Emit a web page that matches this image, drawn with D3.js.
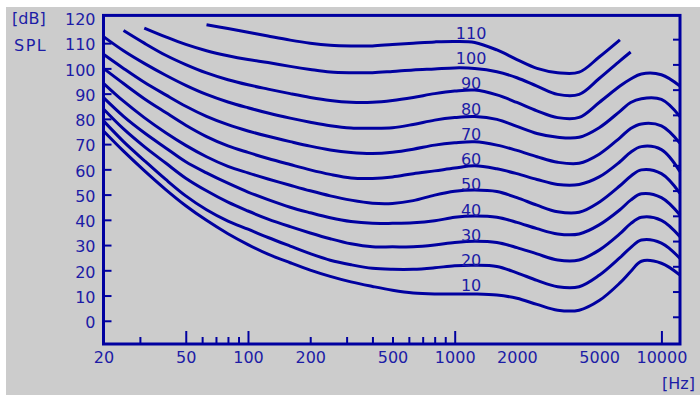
<!DOCTYPE html>
<html>
<head>
<meta charset="utf-8">
<script src="https://cdn.jsdelivr.net/npm/d3@7"></script>
<style>
  body { margin: 0; background: #fff; }
  svg text { font-family: "DejaVu Sans", sans-serif; font-size: 16px; fill: #1c1ca6; }
</style>
</head>
<body>
<svg id="chart" width="700" height="396"></svg>
<script>
// frequency grid (Hz) shared by all contours
const freqs = [20, 25, 31.5, 40, 50, 63, 80, 100, 125, 160, 200, 250, 315, 400, 500, 630, 800, 1000, 1250, 1600, 2000, 2500, 3150, 4000, 5000, 6300, 7100, 8000, 10000, 12300]

// SPL (dB), one array per loudness level
const phon10 = [75.2, 67.2, 59.5, 52, 45.6, 39.8, 34.5, 30.2, 26.4, 23, 20.1, 17.6, 15.4, 13.6, 12.1, 11, 10.6, 10.6, 10.6, 10.2, 8.9, 6.5, 4.2, 4.2, 8, 15, 19.5, 23.6, 22.8, 18.1]
const phon20 = [79.2, 71, 63.5, 56, 49.5, 44, 39.5, 36.3, 33, 29.6, 26.6, 24, 22.2, 20.8, 20.4, 20.4, 21, 21.8, 22, 21.5, 19, 16, 13.5, 13.5, 18, 25, 29, 32, 30.8, 24.7]
const phon30 = [83.9, 76, 69, 62.5, 56.5, 51.5, 47, 43.5, 40.3, 37.3, 34.8, 32.5, 30.5, 29.3, 29.3, 29.3, 30, 31, 31.5, 31, 29, 26.5, 24.1, 24.1, 28, 34.5, 38.5, 41, 39.8, 33.3]
const phon40 = [88.4, 81, 74.5, 68.5, 63, 58.6, 54.5, 51, 48, 45, 42.8, 40.8, 39.3, 38.6, 38.6, 38.8, 39.6, 41, 41.5, 41, 39, 36.5, 34.4, 34.4, 38, 44, 47.8, 50.3, 48.8, 41.9]
const phon50 = [94.1, 87, 80.5, 74.5, 69.5, 65, 61.2, 58.6, 56.2, 53.7, 51.5, 49.5, 47.8, 46.6, 46.5, 47.6, 49.8, 51.3, 51.8, 51.2, 48.8, 45.8, 43.2, 43, 47, 53.5, 57.3, 59.8, 58.3, 50.5]
const phon60 = [100, 94, 88, 82.5, 77.5, 73, 69.3, 66.7, 64.3, 61.9, 59.8, 58, 56.6, 56.4, 57, 58.3, 59.4, 60.5, 61.4, 60.2, 58.3, 56, 54, 54, 57, 63, 66.8, 69, 67.8, 59.1]
const phon70 = [105.6, 100, 94.5, 89.5, 85, 81, 77.7, 75.2, 73.1, 71, 69.2, 67.7, 66.7, 66.3, 66.8, 68, 69.6, 70.5, 70.9, 69.6, 67.5, 65, 62.8, 62.4, 66, 72.5, 76.2, 78, 77.2, 70.3]
const phon80 = [112.6, 107, 102, 97.3, 93.3, 89.7, 86.7, 84.4, 82.3, 80.3, 78.7, 77.3, 76.4, 76.3, 76.5, 77.8, 79.5, 80.5, 80.9, 79.8, 77, 74.2, 72.7, 72.7, 76.5, 83, 86.5, 88, 87.7, 80.9]
const phon90 = [null, 115, 110, 105.2, 101.5, 98.2, 95.5, 93.5, 91.8, 90, 88.5, 87.3, 86.6, 86.6, 87.3, 88.5, 90, 91, 91.4, 89.5, 86.5, 83.2, 80.5, 80.6, 86.5, 93, 95.8, 97.8, 97.5, 93]
const phon100 = [null, null, 116, 112.5, 109.5, 107, 105, 103.5, 102.3, 100.8, 99.6, 98.6, 98.3, 98.3, 98.8, 99.4, 99.8, 100.2, 100, 98.7, 96.3, 93, 89.7, 89.7, 96, 103, 106.5, null, null, null]
const phon110 = [null, null, null, null, null, 117.3, 115.8, 114.3, 112.8, 111.2, 110, 109.2, 108.9, 108.9, 109.5, 110, 110.5, 110.7, 110.3, 107.3, 103.5, 100, 98.3, 98.5, 104.5, 111.3, null, null, null, null]

const levels = [10, 20, 30, 40, 50, 60, 70, 80, 90, 100, 110]
const curves = [phon10, phon20, phon30, phon40, phon50, phon60, phon70, phon80, phon90, phon100, phon110]

const yTicks = [0, 10, 20, 30, 40, 50, 60, 70, 80, 90, 100, 110, 120]
const xMajor = [50, 100, 1000, 10000]
const xMinor = [30, 60, 70, 80, 90, 200, 300, 400, 500, 600, 700, 800, 900]
const xLabels = [20, 50, 100, 200, 500, 1000, 2000, 5000, 10000]

const blue = "#0000a0"

const svg = d3.select("#chart")

svg.append("rect")
  .attr("x", 6).attr("y", 7)
  .attr("width", 694).attr("height", 388)
  .attr("fill", "#cccccc")

const x = d3.scaleLog().domain([20, 12300]).range([103.5, 680])
const y = d3.scaleLinear().domain([-9.2, 121]).range([344, 15.4])

const line = d3.line()
  .defined(d => d[1] != null)
  .x(d => x(d[0]))
  .y(d => y(d[1]))
  .curve(d3.curveCatmullRom.alpha(0.5))

svg.append("g")
  .selectAll("path")
  .data(curves)
  .enter().append("path")
    .attr("d", vals => line(freqs.map((f, i) => [f, vals[i]])))
    .attr("fill", "none")
    .attr("stroke", blue)
    .attr("stroke-width", 3)
    .attr("stroke-linejoin", "round")

// contour labels sit just above each curve near 1.2 kHz
svg.append("g")
  .selectAll("text")
  .data(levels)
  .enter().append("text")
    .attr("x", x(1200))
    .attr("y", d => y(d) - 10)
    .attr("dy", "0.36em")
    .attr("text-anchor", "middle")
    .text(d => d)

// y axis: ticks point inward, labels outside
const yAxis = svg.append("g")
  .attr("transform", `translate(${x(20)},0)`)
  .call(d3.axisLeft(y).tickValues(yTicks).tickSize(-8).tickPadding(8))
yAxis.select(".domain").remove()
yAxis.selectAll("line").attr("stroke", blue).attr("stroke-width", 2)
yAxis.selectAll("text").attr("dy", "0.42em").attr("fill", null).attr("font-size", null).attr("font-family", null)
yAxis.selectAll(".tick").filter(d => d === 120).select("line").remove()

// right side ticks
const yRight = svg.append("g")
  .attr("transform", `translate(680,-4)`)
  .call(d3.axisRight(y).tickValues(yTicks.slice(0, -1)).tickSize(-7).tickFormat(""))
yRight.select(".domain").remove()
yRight.selectAll("line").attr("stroke", blue).attr("stroke-width", 2)

const xBase = y.range()[0]

const xMaj = svg.append("g")
  .attr("transform", `translate(0,${xBase})`)
  .call(d3.axisBottom(x).tickValues(xMajor).tickSize(-13).tickFormat(""))
const xMin = svg.append("g")
  .attr("transform", `translate(0,${xBase})`)
  .call(d3.axisBottom(x).tickValues(xMinor).tickSize(-7).tickFormat(""))
const xLab = svg.append("g")
  .attr("transform", `translate(0,${xBase})`)
  .call(d3.axisBottom(x).tickValues(xLabels).tickSize(0).tickPadding(8).tickFormat(d3.format("d")))

;[xMaj, xMin, xLab].forEach(g => {
  g.select(".domain").remove()
  g.selectAll("line").attr("stroke", blue).attr("stroke-width", 2)
  g.selectAll("text").attr("fill", null).attr("font-size", null).attr("font-family", null)
})

// plot frame
svg.append("rect")
  .attr("x", x.range()[0]).attr("y", y.range()[1])
  .attr("width", x.range()[1] - x.range()[0])
  .attr("height", y.range()[0] - y.range()[1])
  .attr("fill", "none")
  .attr("stroke", blue)
  .attr("stroke-width", 3)

svg.append("text").attr("x", 12).attr("y", 24).text("[dB]")
svg.append("text").attr("x", 14).attr("y", 51).attr("letter-spacing", 1.5).text("SPL")
svg.append("text").attr("x", 695).attr("y", 389).attr("text-anchor", "end").text("[Hz]")
</script>
</body>
</html>
